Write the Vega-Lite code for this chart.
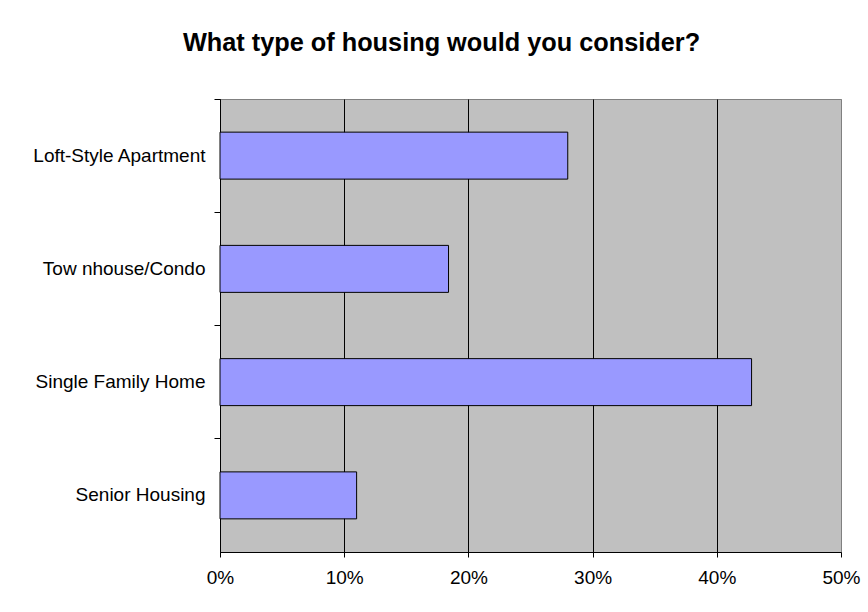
{
  "$schema": "https://vega.github.io/schema/vega-lite/v6.json",
  "width": 621,
  "height": 453,
  "autosize": {"type": "none"},
  "padding": {"left": 220, "top": 99, "right": 27, "bottom": 60},
  "background": "white",
  "title": {
    "text": "What type of housing would you consider?",
    "font": "Liberation Sans",
    "fontSize": 25.3,
    "fontWeight": "bold",
    "color": "black",
    "anchor": "middle",
    "dx": -89,
    "offset": 22,
    "baseline": "alphabetic"
  },
  "data": {
    "values": [
      {"type": "Loft-Style Apartment", "pct": 28.0},
      {"type": "Tow nhouse/Condo", "pct": 18.4},
      {"type": "Single Family Home", "pct": 42.8},
      {"type": "Senior Housing", "pct": 11.0}
    ]
  },
  "mark": {
    "type": "bar",
    "fill": "#9999FF",
    "stroke": "black",
    "strokeWidth": 1,
    "height": {"band": 0.415}
  },
  "encoding": {
    "y": {
      "field": "type",
      "type": "nominal",
      "sort": null,
      "scale": {"paddingInner": 0, "paddingOuter": 0},
      "axis": {
        "title": null,
        "bandPosition": 0,
        "grid": false,
        "tickSize": 6,
        "tickColor": "black",
        "domainColor": "black",
        "labelFont": "Liberation Sans",
        "labelFontSize": 19,
        "labelColor": "black",
        "labelPadding": 9
      }
    },
    "x": {
      "field": "pct",
      "type": "quantitative",
      "scale": {"domain": [0, 50], "nice": false},
      "axis": {
        "title": null,
        "values": [0, 10, 20, 30, 40, 50],
        "labelExpr": "datum.value + '%'",
        "grid": true,
        "gridColor": {"condition": {"test": "datum.value == 50", "value": "#808080"}, "value": "black"},
        "gridOpacity": 1,
        "tickSize": 5,
        "tickColor": "black",
        "domainColor": "black",
        "labelFont": "Liberation Sans",
        "labelFontSize": 19,
        "labelColor": "black",
        "labelPadding": 11,
        "labelFlush": false
      }
    }
  },
  "config": {
    "view": {"fill": "#C0C0C0", "stroke": "#808080"}
  }
}
